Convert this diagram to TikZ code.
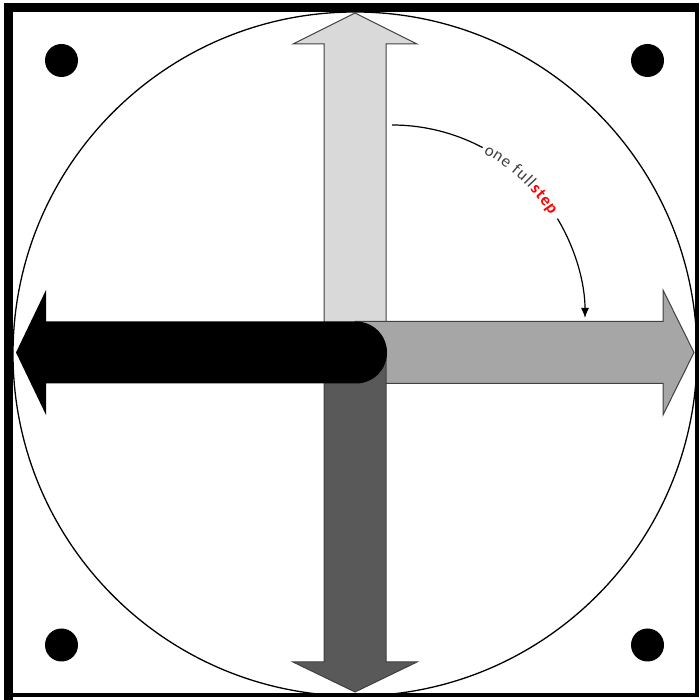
\documentclass[tikz,border=0pt]{standalone}
\usepackage{fontspec}
\setmainfont{Carlito}
\usetikzlibrary{arrows.meta,decorations.text}

\definecolor{uparrow}{HTML}{D9D9D9}
\definecolor{rightarrow}{HTML}{A6A6A6}
\definecolor{downarrow}{HTML}{595959}
\definecolor{labelgray}{HTML}{404040}

\begin{document}
\begin{tikzpicture}[x=1pt, y=1pt, dot/.style={circle, fill=black, minimum size=33pt, inner sep=0pt}, arrowbox/.style={draw=black!75, line width=1pt}]

	\useasboundingbox (0,0) rectangle (699,700);
	% frame
	\draw[line width=9pt] (8.5,0) -- (8.5,692) -- (699,692);
	\draw[line width=4pt] (697,692) -- (697,5) -- (4,5);

	\node[dot] (nw) at (61.5,639.5) {};
	\node[dot] (ne) at (647.5,639.5) {};
	\node[dot] (sw) at (61.5,55) {};
	\node[dot] (se) at (647.5,55) {};

	\draw[line width=1.3pt] (355,346) circle[radius=342];

	% the four arrows
	\filldraw[arrowbox, fill=uparrow] (324,347.5) -- (324,656) -- (293,656) -- (355,687) -- (417,656) -- (386,656) -- (386,347.5) -- cycle;
	\filldraw[arrowbox, fill=rightarrow] (355,316.5) -- (663,316.5) -- (663,285) -- (694,347.5) -- (663,410) -- (663,378.5) -- (355,378.5) -- cycle;
	\filldraw[arrowbox, fill=downarrow] (324,347.5) -- (324,38) -- (293,38) -- (355,8) -- (417,38) -- (386,38) -- (386,347.5) -- cycle;
	\fill[black] (356,378.5) -- (46,378.5) -- (46,410) -- (16,347.5) -- (46,285) -- (46,316.5) -- (356,316.5) arc[start angle=-90, end angle=90, radius=31] -- cycle;

	% step label
	\coordinate (c) at (392,382);
	\draw[line width=1.2pt] ([shift={(90:193)}]c) arc[start angle=90, end angle=62, radius=193];
	\begin{scope}[execute at begin scope={\fontsize{17}{17}\selectfont}]
		\path[decorate, decoration={text along path, raise=-4.5pt, text align={fit to path}, text={|\color{labelgray}|one full|\bfseries\color{red}|step}}] ([shift={(61:193)}]c) arc[start angle=61, end angle=33, radius=193];
	\end{scope}
	\draw[line width=1.2pt, -{Latex[length=10pt, width=8pt]}] ([shift={(31:193)}]c) arc[start angle=31, end angle=0, radius=193];
\end{tikzpicture}
\end{document}
